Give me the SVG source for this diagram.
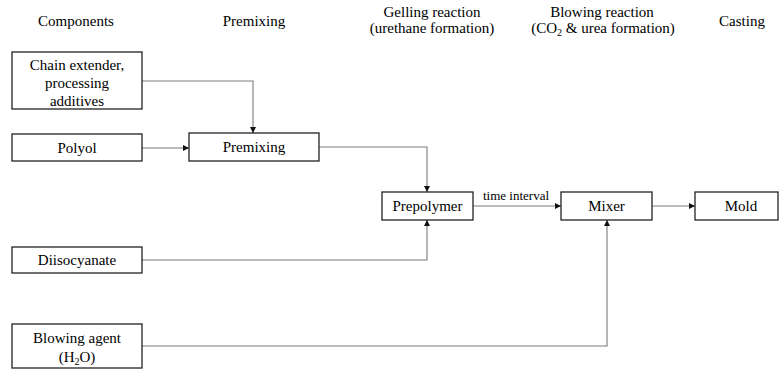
<svg xmlns="http://www.w3.org/2000/svg" width="779" height="371" viewBox="0 0 779 371" font-family="'Liberation Serif', 'DejaVu Serif', 'Times New Roman', serif">
<style>
text { font-family: 'Liberation Serif', 'DejaVu Serif', 'Times New Roman', serif; fill: #000; }
.h { font-size: 15px; text-anchor: middle; }
.t { font-size: 15px; text-anchor: middle; }
.s { font-size: 13px; text-anchor: middle; }
.box { fill: #fff; stroke: #222; stroke-width: 1.3; }
.c { fill: none; stroke: #7a7a7a; stroke-width: 1.1; }
</style>
<defs>
<marker id="arr" viewBox="0 0 6 6" refX="6" refY="3" markerWidth="6" markerHeight="6" markerUnits="userSpaceOnUse" orient="auto">
<path d="M0,0 L6,3 L0,6 z" fill="#111"/>
</marker>
</defs>
<g id="headers">
<text class="h" x="76" y="26">Components</text>
<text class="h" x="254" y="26">Premixing</text>
<text class="h" x="432" y="17">Gelling reaction</text>
<text class="h" x="432" y="33">(urethane formation)</text>
<text class="h" x="602" y="17">Blowing reaction</text>
<text class="h" x="603" y="33">(CO<tspan font-size="10" dy="3">2</tspan><tspan dy="-3"> &amp; urea formation)</tspan></text>
<text class="h" x="742" y="26">Casting</text>
</g>
<g id="connectors">
<path class="c" d="M142,81 H253 V133" marker-end="url(#arr)"/>
<path class="c" d="M142,148 H189" marker-end="url(#arr)"/>
<path class="c" d="M319,147 H427 V192" marker-end="url(#arr)"/>
<path class="c" d="M142,260 H427 V220" marker-end="url(#arr)"/>
<path class="c" d="M473,206 H561" marker-end="url(#arr)"/>
<path class="c" d="M142,346 H607 V220" marker-end="url(#arr)"/>
<path class="c" d="M652,206 H695" marker-end="url(#arr)"/>
<text class="s" x="516" y="200">time interval</text>
</g>
<g id="chain">
<rect class="box" x="12" y="52" width="130" height="57"/>
<text class="t" x="77" y="70">Chain extender,</text>
<text class="t" x="77" y="88">processing</text>
<text class="t" x="77" y="106">additives</text>
</g>
<g id="polyol">
<rect class="box" x="12" y="134" width="130" height="27"/>
<text class="t" x="77" y="153">Polyol</text>
</g>
<g id="premixing">
<rect class="box" x="189" y="133" width="130" height="28"/>
<text class="t" x="254" y="152">Premixing</text>
</g>
<g id="diisocyanate">
<rect class="box" x="12" y="247" width="130" height="26"/>
<text class="t" x="77" y="265">Diisocyanate</text>
</g>
<g id="blowing">
<rect class="box" x="12" y="324" width="130" height="44"/>
<text class="t" x="77" y="343">Blowing agent</text>
<text class="t" x="77" y="362">(H<tspan font-size="10" dy="3">2</tspan><tspan dy="-3">O)</tspan></text>
</g>
<g id="prepolymer">
<rect class="box" x="382" y="192" width="91" height="28"/>
<text class="t" x="427.5" y="211">Prepolymer</text>
</g>
<g id="mixer">
<rect class="box" x="561" y="192" width="91" height="28"/>
<text class="t" x="606.5" y="211">Mixer</text>
</g>
<g id="mold">
<rect class="box" x="695" y="192" width="83" height="28"/>
<text class="t" x="741" y="211">Mold</text>
</g>
</svg>
